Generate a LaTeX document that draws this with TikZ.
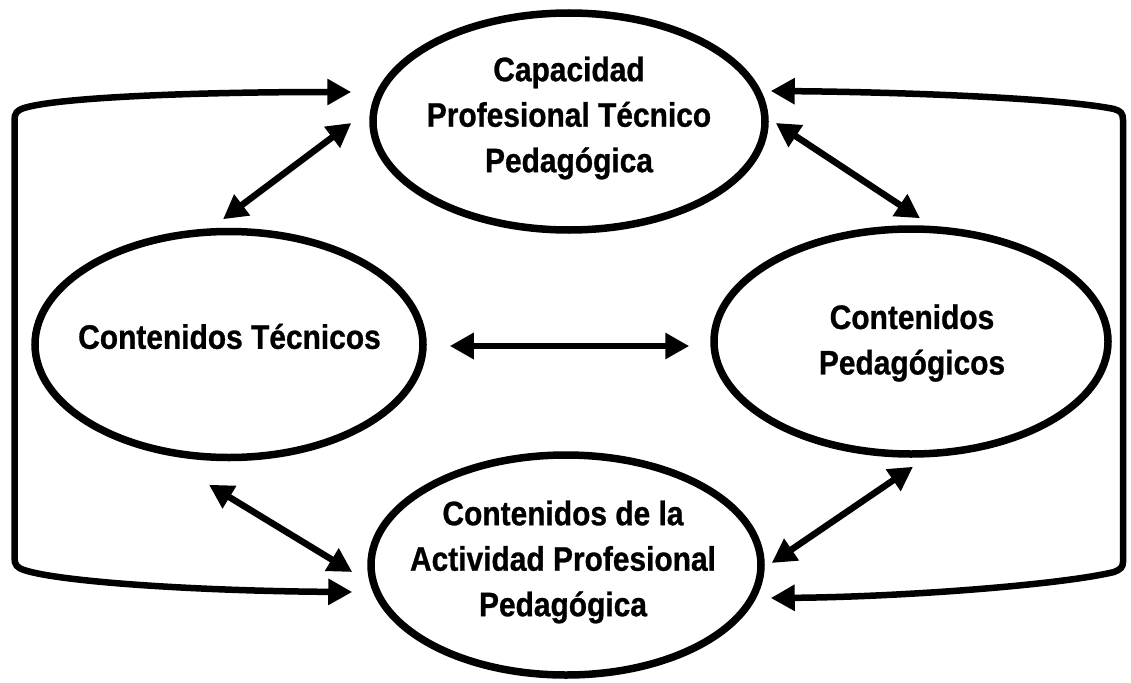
\documentclass[tikz,border=0pt]{standalone}
\usepackage{fontspec}
\setmainfont{Liberation Sans}[FakeStretch=0.88, BoldFeatures={FakeBold=0.8}]
\usetikzlibrary{arrows.meta,calc,shapes.geometric}
\begin{document}
\begin{tikzpicture}[x=1pt,y=-1pt,
  oval/.style={draw=black, line width=7.5pt, ellipse, inner sep=0pt},
  txt/.style={inner sep=0pt, align=center, font=\fontsize{34}{45.5}\selectfont\bfseries},
  conn/.style={line width=6.5pt, {Triangle[length=24pt,width=25pt]}-{Triangle[length=24pt,width=25pt]}}]
\useasboundingbox[fill=white] (0,0) rectangle (1131,682);

\node[oval, minimum width=392pt, minimum height=217pt] (T) at (569,121.5) {};
\node[oval, minimum width=388pt, minimum height=226pt] (L) at (229,344.5) {};
\node[oval, minimum width=394pt, minimum height=225pt] (R) at (911,341.5) {};
\node[oval, minimum width=390pt, minimum height=220pt] (B) at (566,565) {};

\node[txt] (Tt) at (569,118) {Capacidad\\Profesional Técnico\\Pedagógica};
\node[txt] (Lt) at (229.5,336.5) {Contenidos Técnicos};
\node[txt] (Rt) at (912,343) {Contenidos\\Pedagógicos};
\node[txt] (Bt) at (563,562) {Contenidos de la\\Actividad Profesional\\Pedagógica};

% diagonal and horizontal double arrows
\draw[conn] ($(L.north)+(-6,-8.5)$) -- ($(T.west)+(-18,1.5)$);
\draw[conn] ($(T.east)+(7,1.5)$) -- ($(R.north)+(9,-7)$);
\draw[conn] ($(L.east)+(23,1.5)$) -- ($(R.west)+(-21,4.5)$);
\draw[conn] ($(L.south)+(-20,23.5)$) -- ($(B.west)+(-15,7)$);
\draw[conn] ($(R.south)+(2,9)$) -- ($(B.east)+(7,-2)$);

% outer brackets
\draw[conn] ($(T.west)+(-18,-29.5)$) .. controls (200,92) and (60,97) .. (24,108)
  .. controls (17,110.5) and (14.5,113) .. (14.5,120) -- (14.5,558)
  .. controls (14.5,565) and (17,567.5) .. (24,570)
  .. controls (60,582) and (200,591) .. ($(B.west)+(-15,27)$);
\draw[conn] ($(T.east)+(2,-30.5)$) .. controls (900,92) and (1060,98) .. (1114,109)
  .. controls (1120.5,111) and (1123,113) .. (1123,120) -- (1123,562)
  .. controls (1123,567) and (1120.5,569.5) .. (1114,572)
  .. controls (1060,585) and (900,597) .. ($(B.east)+(6,33)$);
\end{tikzpicture}
\end{document}
